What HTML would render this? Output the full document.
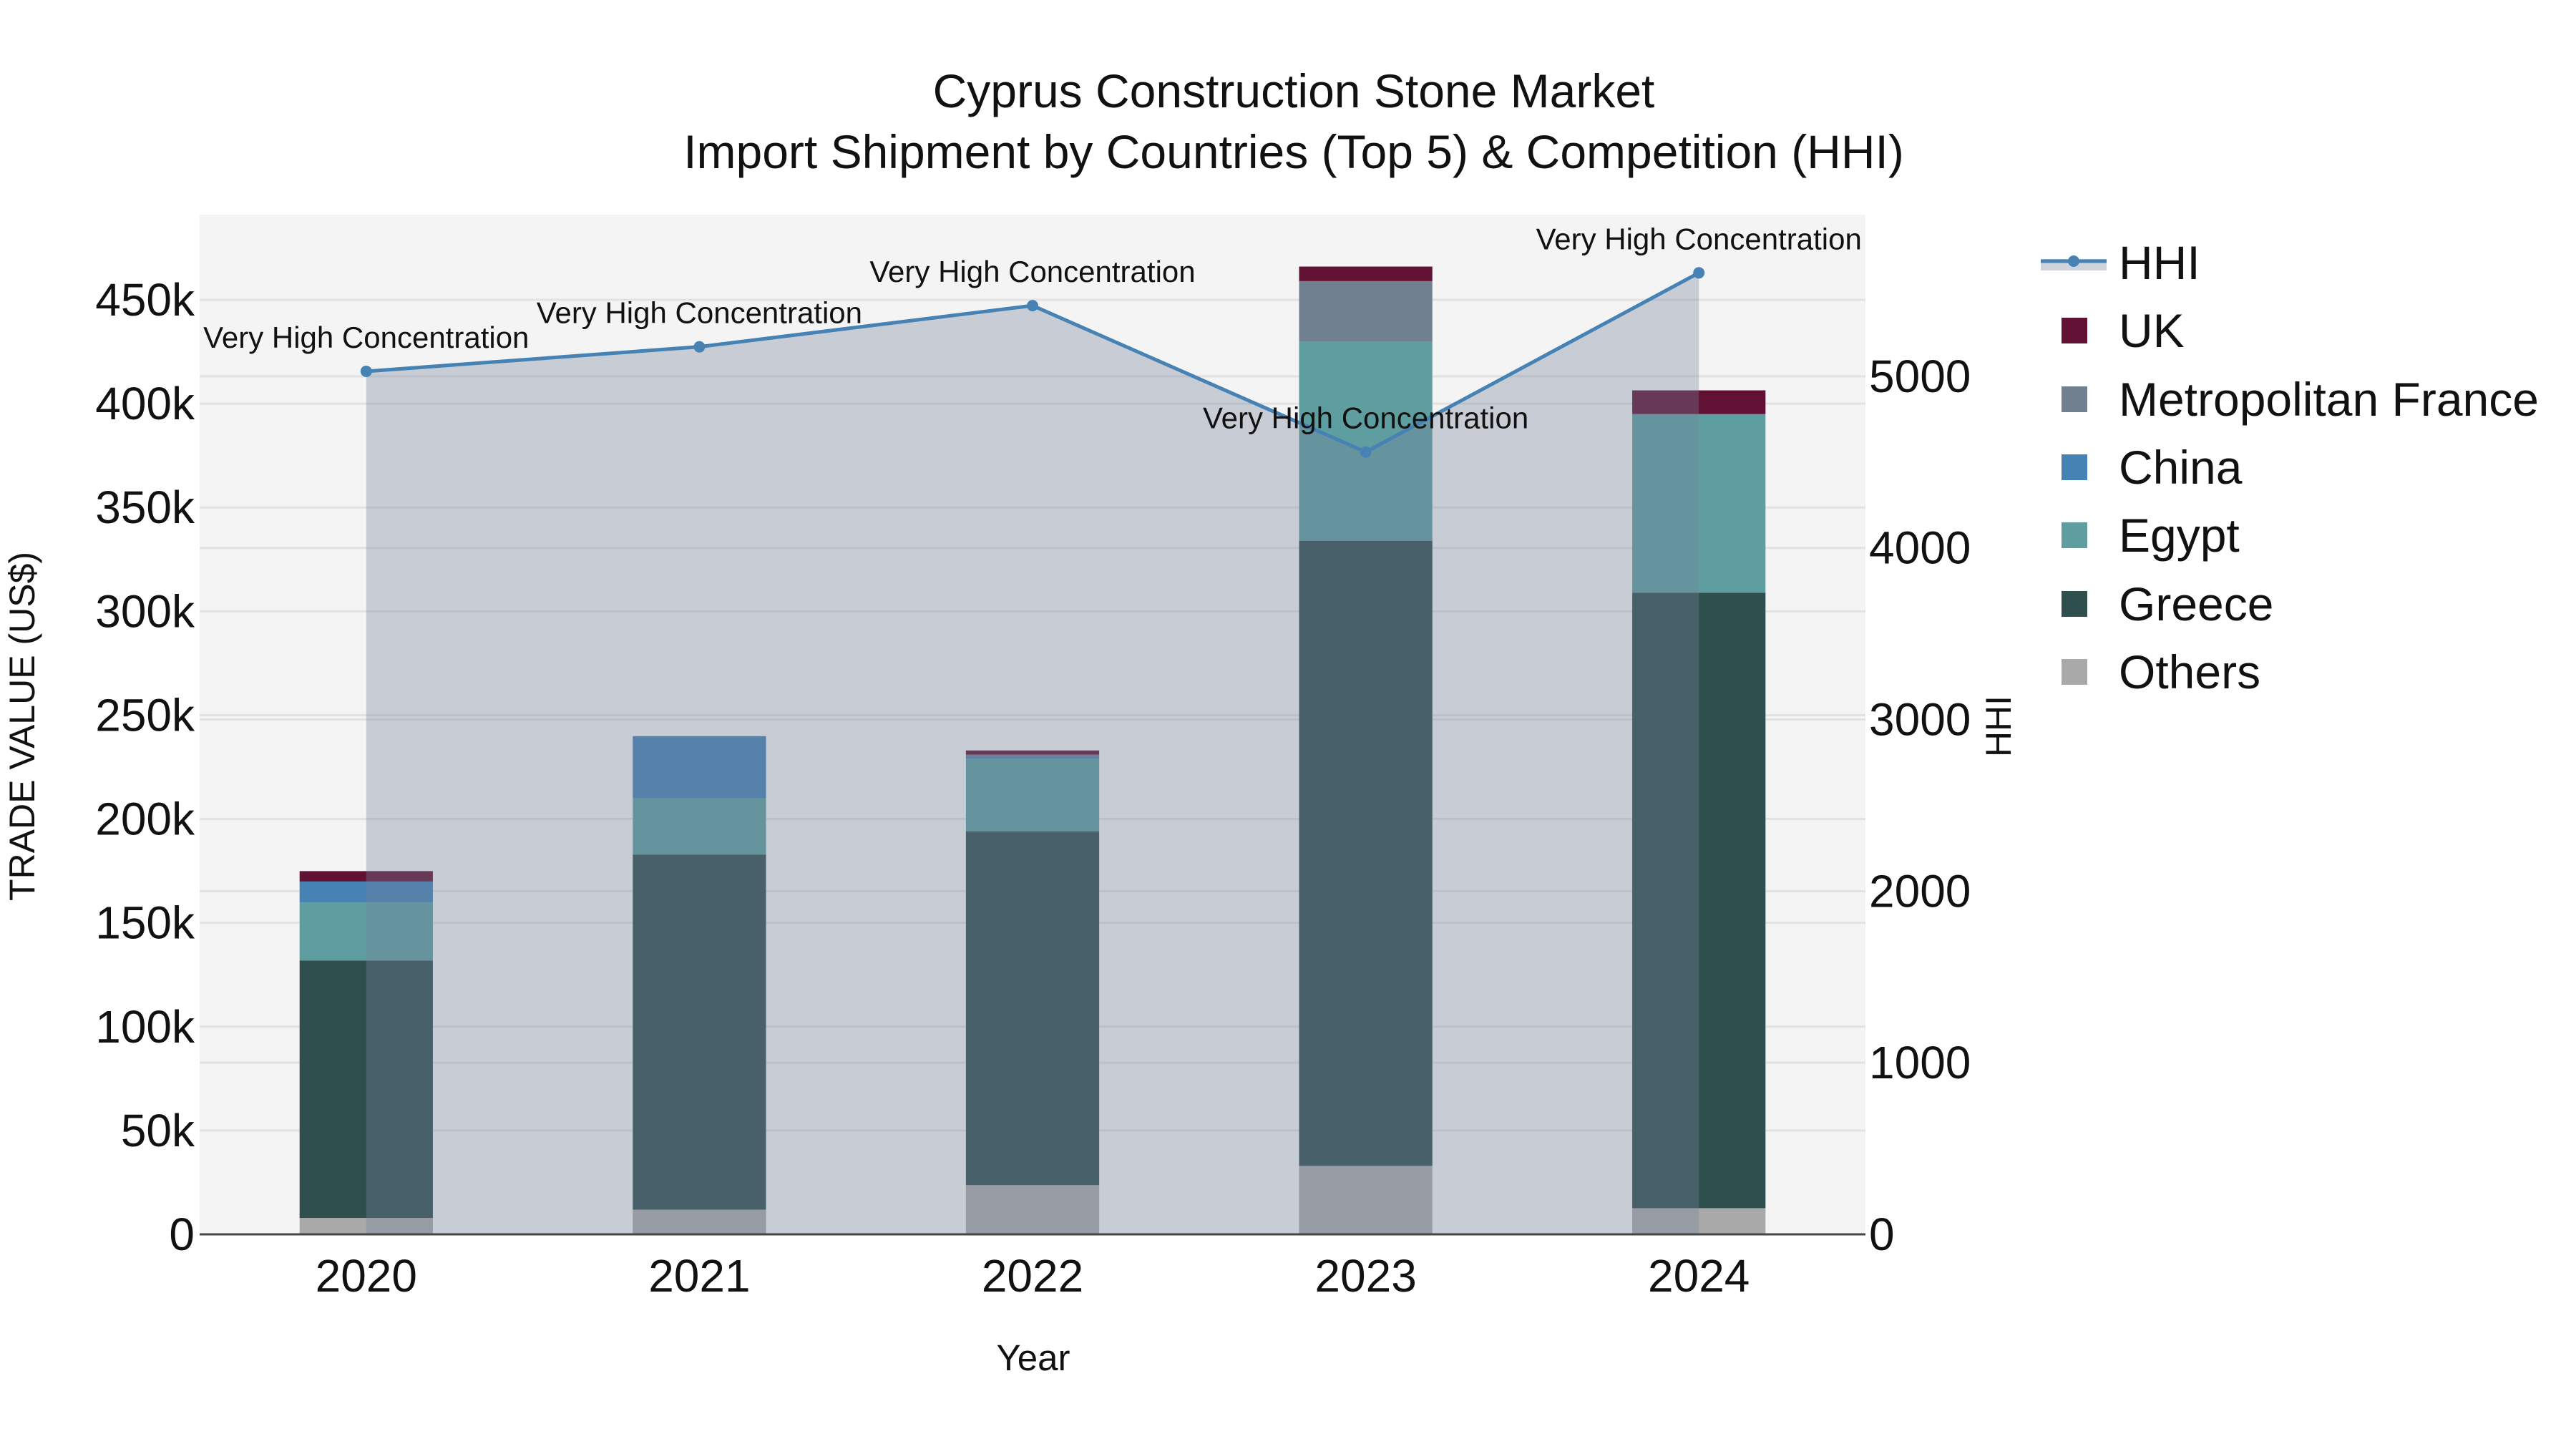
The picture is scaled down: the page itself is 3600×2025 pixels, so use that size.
<!DOCTYPE html>
<html><head><meta charset="utf-8"><style>
html,body{margin:0;padding:0;background:#fff;}
svg{display:block;font-family:"Liberation Sans",sans-serif;}
</style></head><body>
<svg id="chart" width="3600" height="2025" viewBox="0 0 3600 2025"></svg>
<script>
const years = ["2020","2021","2022","2023","2024"];
const others = [7900, 11900, 23700, 33000, 12600];
const greece = [124000, 171000, 170300, 301000, 296400];
const egypt = [28000, 27000, 35000, 96000, 86000];
const china = [10000, 30000, 1000, 0, 0];
const france = [0, 0, 1000, 29000, 0];
const uk = [5000, 0, 2000, 7000, 11400];
const hhi = [5029, 5172, 5412, 4559, 5603];
const hhiLabels = ["Very High Concentration","Very High Concentration","Very High Concentration","Very High Concentration","Very High Concentration"];
const leftTicks = [0,50000,100000,150000,200000,250000,300000,350000,400000,450000];
const leftTickLabels = ["0","50k","100k","150k","200k","250k","300k","350k","400k","450k"];
const rightTicks = [0,1000,2000,3000,4000,5000];
const rightTickLabels = ["0","1000","2000","3000","4000","5000"];

const NS="http://www.w3.org/2000/svg";
const svg=document.getElementById('chart');
const L=279,R=2607,T=300,B=1725;
const yMaxL=491000,yMaxR=5942;
const band=(R-L)/years.length;
const xC=i=>L+band*(i+0.5);
const yL=v=>B-(v/yMaxL)*(B-T);
const yR=v=>B-(v/yMaxR)*(B-T);
function mk(tag,attrs,parent){const e=document.createElementNS(NS,tag);for(const k in attrs)e.setAttribute(k,attrs[k]);(parent||svg).appendChild(e);return e;}

const bg=mk('rect',{x:L,y:T,width:R-L,height:B-T,fill:'#f4f4f4'});


leftTicks.forEach((v,i)=>{
  const g=mk('line',{x1:L,x2:R,y1:yL(v),y2:yL(v),stroke:'#e2e2e2','stroke-width':3});
  
  
  const t=mk('text',{x:272,y:yL(v)+22,'text-anchor':'end','font-size':64,fill:'#111'});
  t.textContent=leftTickLabels[i];
  
  
});
rightTicks.forEach((v,i)=>{
  const g=mk('line',{x1:L,x2:R,y1:yR(v),y2:yR(v),stroke:'#e2e2e2','stroke-width':3});
  
  
  const t=mk('text',{x:2612,y:yR(v)+22,'text-anchor':'start','font-size':64,fill:'#111'});
  t.textContent=rightTickLabels[i];
  
  
});

const series=[["others",others,"#a9a9a9"],["greece",greece,"#2f4f4f"],["egypt",egypt,"#5f9ea0"],["china",china,"#4682b4"],["france",france,"#708090"],["uk",uk,"#611134"]];
const bw=band*0.4;
years.forEach((y,i)=>{
  let base=0;
  series.forEach(s=>{
    const v=s[1][i];
    if(v>0){
      const r=mk('rect',{x:xC(i)-bw/2,y:yL(base+v),width:bw,height:yL(base)-yL(base+v),fill:s[2]});
      
      
    }
    base+=v;
  });
});

let d='M'+xC(0)+','+B;
hhi.forEach((v,i)=>{d+=' L'+xC(i)+','+yR(v);});
d+=' L'+xC(hhi.length-1)+','+B+' Z';
const area=mk('path',{d:d,fill:'rgb(118,130,154)','fill-opacity':0.35});


const line=mk('polyline',{points:hhi.map((v,i)=>xC(i)+','+yR(v)).join(' '),fill:'none',stroke:'#4682b4','stroke-width':5});


hhi.forEach((v,i)=>{
  const c=mk('circle',{cx:xC(i),cy:yR(v),r:8,fill:'#4682b4'});
  
  
  const t=mk('text',{x:xC(i),y:yR(v)-33,'text-anchor':'middle','font-size':42,fill:'#111'});
  t.textContent=hhiLabels[i];
  
  
});
const zl=mk('line',{x1:L,x2:R,y1:B,y2:B,stroke:'#444','stroke-width':3});


years.forEach((y,i)=>{
  const t=mk('text',{x:xC(i),y:1805,'text-anchor':'middle','font-size':64,fill:'#111'});
  t.textContent=y;
  
  
});
</script>
<div style="position:absolute;left:0;top:0;width:3600px;height:2025px;pointer-events:none;">
<svg width="3600" height="2025" style="position:absolute;left:0;top:0;font-family:'Liberation Sans',sans-serif;">
<text x="1808" y="150" text-anchor="middle" font-size="66" fill="#111">Cyprus Construction Stone Market</text>
<text x="1808" y="235" text-anchor="middle" font-size="66" fill="#111">Import Shipment by Countries (Top 5) &amp; Competition (HHI)</text>
<text x="1444" y="1915" text-anchor="middle" font-size="51" fill="#111">Year</text>
<text transform="translate(48,1015) rotate(-90)" text-anchor="middle" font-size="50" fill="#111">TRADE VALUE (US$)</text>
<text transform="translate(2810,1015) rotate(-90)" text-anchor="middle" font-size="50" fill="#111">HHI</text>
<g>
<g>
<rect x="2852" y="362" width="92" height="16" fill="rgb(118,130,154)" fill-opacity="0.35"/>
<line x1="2852" x2="2944" y1="365" y2="365" stroke="#4682b4" stroke-width="5"/>
<circle cx="2898" cy="365" r="8" fill="#4682b4"/>
<text x="2961" y="390" font-size="66" fill="#111">HHI</text></g>
<g><rect x="2881" y="444" width="36" height="36" fill="#611134"/><text x="2961" y="485" font-size="66" fill="#111">UK</text></g>
<g><rect x="2881" y="540" width="36" height="36" fill="#708090"/><text x="2961" y="581" font-size="66" fill="#111">Metropolitan France</text></g>
<g><rect x="2881" y="635" width="36" height="36" fill="#4682b4"/><text x="2961" y="676" font-size="66" fill="#111">China</text></g>
<g><rect x="2881" y="730" width="36" height="36" fill="#5f9ea0"/><text x="2961" y="771" font-size="66" fill="#111">Egypt</text></g>
<g><rect x="2881" y="826" width="36" height="36" fill="#2f4f4f"/><text x="2961" y="867" font-size="66" fill="#111">Greece</text></g>
<g><rect x="2881" y="921" width="36" height="36" fill="#a9a9a9"/><text x="2961" y="962" font-size="66" fill="#111">Others</text></g>
</g>
</svg></div>
</body></html>
